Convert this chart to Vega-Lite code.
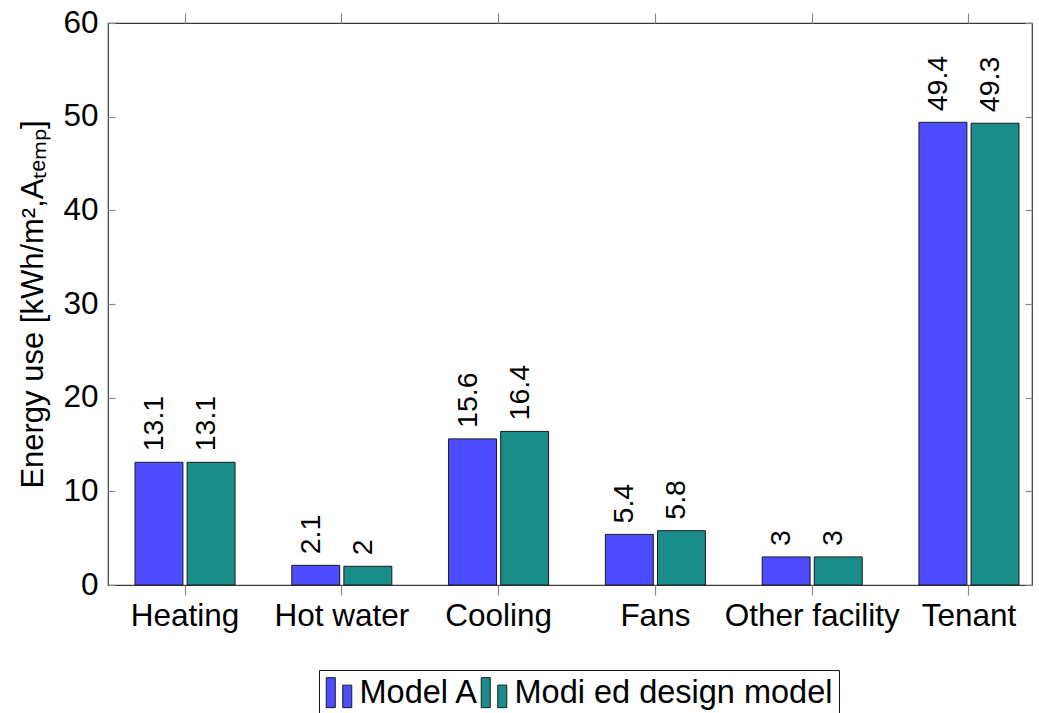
{
  "$schema": "https://vega.github.io/schema/vega-lite/v6.json",
  "width": 924,
  "height": 562,
  "autosize": {"type": "none"},
  "padding": {"left": 108, "top": 23, "right": 7, "bottom": 128},
  "background": "white",
  "config": {
    "font": "Liberation Sans",
    "view": {"stroke": "#3a3a3a", "strokeWidth": 1.2},
    "axis": {"domain": false, "grid": false, "tickColor": "#8a8a8a", "tickWidth": 1.2, "labelColor": "black", "titleColor": "black"}
  },
  "data": {
    "values": [
      {"use": "Heating", "model": "Model A", "energy": 13.1},
      {"use": "Heating", "model": "Modi ed design model", "energy": 13.1},
      {"use": "Hot water", "model": "Model A", "energy": 2.1},
      {"use": "Hot water", "model": "Modi ed design model", "energy": 2},
      {"use": "Cooling", "model": "Model A", "energy": 15.6},
      {"use": "Cooling", "model": "Modi ed design model", "energy": 16.4},
      {"use": "Fans", "model": "Model A", "energy": 5.4},
      {"use": "Fans", "model": "Modi ed design model", "energy": 5.8},
      {"use": "Other facility", "model": "Model A", "energy": 3},
      {"use": "Other facility", "model": "Modi ed design model", "energy": 3},
      {"use": "Tenant", "model": "Model A", "energy": 49.4},
      {"use": "Tenant", "model": "Modi ed design model", "energy": 49.3}
    ]
  },
  "layer": [
    {
      "mark": {"type": "bar", "stroke": "#1a1a1a", "strokeWidth": 1},
      "encoding": {
        "x": {
          "field": "use", "type": "nominal", "sort": null,
          "scale": {"paddingInner": 0.362, "paddingOuter": 0.1276, "align": 0.675},
          "axis": {"orient": "bottom", "title": null, "labelAngle": 0, "labelFontSize": 31.5, "labelPadding": 5, "tickSize": 10}
        },
        "xOffset": {"field": "model", "type": "nominal", "sort": null, "scale": {"paddingInner": 0.08}},
        "y": {
          "field": "energy", "type": "quantitative",
          "scale": {"domain": [0, 60], "nice": false},
          "axis": {
            "orient": "left",
            "values": [0, 10, 20, 30, 40, 50, 60],
            "title": "Energy use [kWh/m²,Aₜₑₘₚ]",
            "titleFontSize": 31, "titleFontWeight": "normal", "titlePadding": 13,
            "labelFontSize": 31.5, "labelPadding": 17, "tickSize": -7
          }
        },
        "color": {
          "field": "model", "type": "nominal", "sort": null,
          "scale": {"range": ["#4d4dff", "#1a8c8a"]},
          "legend": {
            "title": null,
            "orient": "none",
            "legendX": 211,
            "legendY": 647,
            "direction": "horizontal",
            "strokeColor": "#1a1a1a",
            "padding": 6,
            "symbolType": "M-1,-1H-0.4V1H-1Z M0.1,-0.5H0.7V1H0.1Z",
            "symbolSize": 900,
            "symbolStrokeColor": "#1a1a1a",
            "symbolStrokeWidth": 1,
            "symbolOpacity": 1,
            "labelFontSize": 32.5,
            "labelOffset": 2,
            "columnPadding": 0,
            "labelLimit": 450
          }
        }
      }
    },
    {
      "mark": {"type": "text", "angle": 270, "align": "left", "baseline": "middle", "dx": 11, "dy": -5, "fontSize": 28.5, "color": "black"},
      "encoding": {
        "x": {"field": "use", "type": "nominal", "sort": null, "axis": null},
        "xOffset": {"field": "model", "type": "nominal", "sort": null},
        "y": {"field": "energy", "type": "quantitative", "axis": null},
        "text": {"field": "energy", "type": "quantitative"}
      }
    },
    {
      "mark": {"type": "point", "opacity": 0},
      "encoding": {
        "x": {
          "field": "use", "type": "nominal", "sort": null,
          "axis": {"orient": "top", "title": null, "labels": false, "tickSize": 10}
        },
        "y": {
          "field": "energy", "type": "quantitative",
          "axis": {"orient": "right", "title": null, "labels": false, "values": [0, 10, 20, 30, 40, 50, 60], "tickSize": -7}
        }
      }
    }
  ],
  "resolve": {"axis": {"x": "independent", "y": "independent"}}
}
